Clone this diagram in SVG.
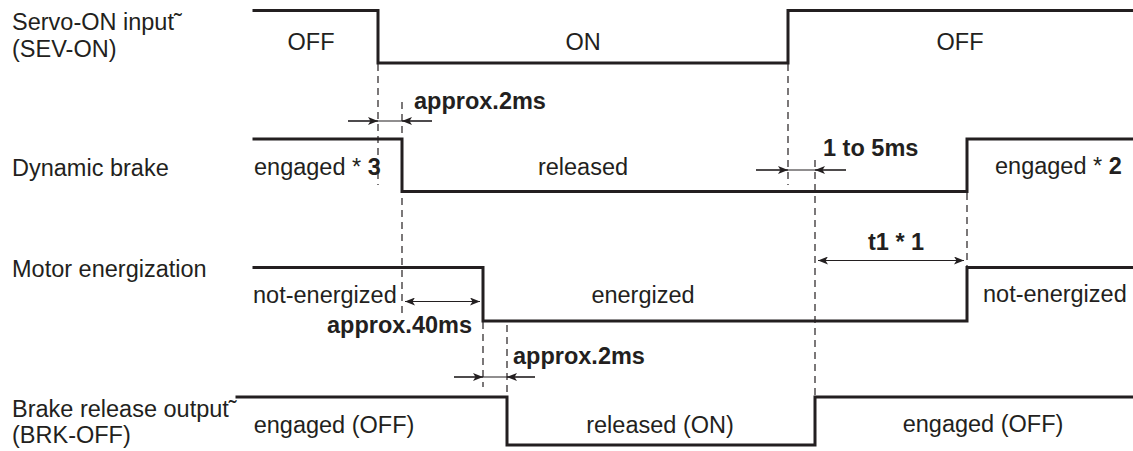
<svg xmlns="http://www.w3.org/2000/svg" width="1133" height="451" viewBox="0 0 1133 451">
<defs>
<style>
text{font-family:"Liberation Sans",Arial,sans-serif;font-size:23.5px;fill:#231f20}
.b{font-weight:bold}
.c{text-anchor:middle}
.sig{fill:none;stroke:#231f20;stroke-width:3;stroke-linejoin:miter;stroke-linecap:square}
.dash{fill:none;stroke:#231f20;stroke-width:1.2;stroke-dasharray:7,5}
.dim{fill:none;stroke:#231f20;stroke-width:1.2}
</style>
<marker id="ah" viewBox="0 0 10 8" refX="10" refY="4" markerWidth="10" markerHeight="8" markerUnits="userSpaceOnUse" orient="auto">
<path d="M0,0 L10,4 L0,8 L2.5,4 Z" fill="#231f20"/>
</marker>
</defs>

<g id="servo-on">
<text x="12" y="29.5">Servo-ON input˜</text>
<text x="12" y="56.5">(SEV-ON)</text>
<polyline class="sig" points="254,10.5 378,10.5 378,63 788,63 788,10.5 1133,10.5"/>
<text class="c" x="311" y="50">OFF</text>
<text class="c" x="583" y="50">ON</text>
<text class="c" x="960" y="50">OFF</text>
</g>

<g id="dynamic-brake">
<text x="12" y="176">Dynamic brake</text>
<polyline class="sig" points="254,139 402,139 402,191.5 967,191.5 967,139 1133,139"/>
<text x="254" y="175">engaged * <tspan class="b">3</tspan></text>
<text class="c" x="583" y="175">released</text>
<text x="995" y="174">engaged * <tspan class="b">2</tspan></text>
</g>

<g id="motor-energization">
<text x="12" y="277">Motor energization</text>
<polyline class="sig" points="254,267.5 483,267.5 483,321 967,321 967,267.5 1133,267.5"/>
<text x="253" y="303">not-energized</text>
<text class="c" x="643" y="303">energized</text>
<text x="983" y="302">not-energized</text>
</g>

<g id="brake-release">
<text x="12" y="416.5">Brake release output˜</text>
<text x="12" y="443">(BRK-OFF)</text>
<polyline class="sig" points="237,397 507,397 507,445 815,445 815,397 1133,397"/>
<text class="c" x="334" y="433">engaged (OFF)</text>
<text class="c" x="660" y="433">released (ON)</text>
<text class="c" x="983" y="432">engaged (OFF)</text>
</g>

<g id="connectors">
<line class="dash" x1="378" y1="64" x2="378" y2="185"/>
<line class="dash" x1="402" y1="102" x2="402" y2="318"/>
<line class="dash" x1="483" y1="322" x2="483" y2="387"/>
<line class="dash" x1="507" y1="325" x2="507" y2="397"/>
<line class="dash" x1="788" y1="64" x2="788" y2="185"/>
<line class="dash" x1="815" y1="160" x2="815" y2="397"/>
<line class="dash" x1="967" y1="193" x2="967" y2="267"/>

<line class="dim" x1="348" y1="121" x2="432" y2="121"/>
<line class="dim" x1="348" y1="121" x2="378" y2="121" marker-end="url(#ah)"/>
<line class="dim" x1="432" y1="121" x2="402" y2="121" marker-end="url(#ah)"/>

<line class="dim" x1="756" y1="170" x2="846" y2="170"/>
<line class="dim" x1="756" y1="170" x2="788" y2="170" marker-end="url(#ah)"/>
<line class="dim" x1="846" y1="170" x2="815" y2="170" marker-end="url(#ah)"/>

<line class="dim" x1="891" y1="260.5" x2="818" y2="260.5" marker-end="url(#ah)"/>
<line class="dim" x1="891" y1="260.5" x2="964" y2="260.5" marker-end="url(#ah)"/>

<line class="dim" x1="442" y1="301.5" x2="405" y2="301.5" marker-end="url(#ah)"/>
<line class="dim" x1="442" y1="301.5" x2="480" y2="301.5" marker-end="url(#ah)"/>

<line class="dim" x1="454" y1="377" x2="535" y2="377"/>
<line class="dim" x1="454" y1="377" x2="483" y2="377" marker-end="url(#ah)"/>
<line class="dim" x1="535" y1="377" x2="507" y2="377" marker-end="url(#ah)"/>

<text class="b" x="414" y="109">approx.2ms</text>
<text class="b" x="823" y="156">1 to 5ms</text>
<text class="b" x="868" y="250">t1 * 1</text>
<text class="b" x="327" y="333">approx.40ms</text>
<text class="b" x="513" y="364">approx.2ms</text>
</g>
</svg>
